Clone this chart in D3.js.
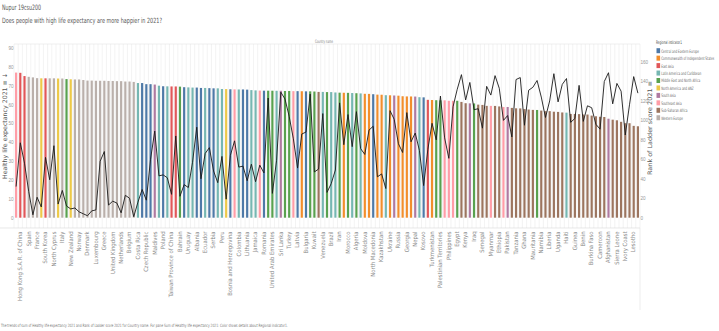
<!DOCTYPE html>
<html>
<head>
<meta charset="utf-8">
<script src="https://cdn.jsdelivr.net/npm/d3@7"></script>
<style>
  html, body { margin: 0; padding: 0; background: #fff; }
  svg { display: block; font-family: "Liberation Sans Narrow", "DejaVu Sans Condensed", "Roboto", sans-serif; }
</style>
</head>
<body>
<svg id="chart" width="719" height="331"></svg>
<script>
// Countries ordered by healthy life expectancy (descending)
const countries = [
  "Singapore","Hong Kong S.A.R. of China","Japan","Spain","Switzerland","France","Australia","South Korea","Cyprus","North Cyprus",
  "Canada","Italy","Israel","New Zealand","Austria","Norway","Iceland","Denmark","Sweden","Luxembourg",
  "Portugal","Greece","Germany","United Kingdom","Ireland","Netherlands","Malta","Belgium","Finland","Costa Rica",
  "Slovenia","Czech Republic","Croatia","Maldives","Chile","Poland","Panama","Taiwan Province of China","China","Bahrain",
  "Slovakia","Uruguay","Argentina","Albania","Estonia","Ecuador","Montenegro","Serbia","Mexico","Peru",
  "United States","Bosnia and Herzegovina","Vietnam","Colombia","Hungary","Lithuania","Nicaragua","Jamaica","Thailand","Romania",
  "Lebanon","United Arab Emirates","Honduras","Sri Lanka","Tunisia","Turkey","Malaysia","Latvia","Armenia","Bulgaria",
  "Jordan","Kuwait","Mauritius","Venezuela","Saudi Arabia","Brazil","El Salvador","Iran","Belarus","Morocco",
  "Dominican Republic","Algeria","Paraguay","Moldova","Azerbaijan","North Macedonia","Uzbekistan","Kazakhstan","Guatemala","Ukraine",
  "Bangladesh","Russia","Kyrgyzstan","Georgia","Tajikistan","Nepal","Bolivia","Kosovo","Mongolia","Turkmenistan",
  "Libya","Palestinian Territories","Indonesia","Philippines","Cambodia","Egypt","Rwanda","Kenya","India","Iraq",
  "Gabon","Senegal","Madagascar","Myanmar","Botswana","Ethiopia","Laos","Pakistan","Congo (Brazzaville)","Tanzania",
  "Malawi","Ghana","Comoros","Mauritania","Yemen","Namibia","South Africa","Liberia","Zimbabwe","Uganda",
  "Zambia","Haiti","Gambia","Guinea","Togo","Benin","Mozambique","Burkina Faso","Niger","Cameroon",
  "Burundi","Afghanistan","Mali","Sierra Leone","Swaziland","Ivory Coast","Nigeria","Lesotho","Chad"
];

const healthyLifeExpectancy = [
  76.953,76.820,75.100,74.700,74.400,74.000,73.900,73.900,73.898,73.898,
  73.800,73.800,73.503,73.400,73.300,73.300,73.000,72.700,72.700,72.600,
  72.600,72.600,72.500,72.500,72.400,72.400,72.200,72.199,72.000,71.400,
  71.400,70.807,70.799,70.600,70.000,69.702,69.652,69.600,69.593,69.495,
  69.201,69.100,69.000,68.999,68.800,68.800,68.699,68.600,68.597,68.250,
  68.200,68.098,68.034,68.001,68.000,67.906,67.657,67.500,67.401,67.355,
  67.355,67.333,67.300,67.299,67.201,67.199,67.102,67.100,67.055,67.000,
  67.000,66.900,66.701,66.700,66.603,66.601,66.402,66.300,66.253,66.208,
  66.102,66.005,65.900,65.699,65.656,65.474,65.255,65.200,64.958,64.902,
  64.800,64.703,64.401,64.300,64.281,64.233,63.901,63.813,62.500,62.409,
  62.300,62.250,62.236,62.000,62.000,61.998,61.400,60.704,60.633,60.583,
  59.962,59.802,59.305,59.302,59.269,59.000,58.709,58.709,58.221,57.999,
  57.948,57.586,57.349,57.161,57.122,56.799,56.506,56.498,56.201,56.101,
  55.809,55.700,55.012,55.008,54.914,54.713,54.706,54.151,53.780,53.515,
  53.400,52.493,51.969,51.651,50.833,50.114,50.102,48.700,48.478
];

const ladderRank = [
  32,77,56,27,3,21,11,62,39,74,
  14,28,12,9,10,6,4,2,7,8,
  58,68,13,17,15,5,23,20,1,16,
  29,18,60,89,43,44,41,24,84,22,
  34,31,57,93,40,66,72,48,36,63,
  19,64,79,52,53,38,55,37,54,46,
  123,25,59,129,122,104,81,51,86,88,
  127,47,50,107,26,35,49,118,75,106,
  73,109,71,65,90,94,42,45,30,110,
  101,76,67,108,78,87,69,33,70,97,
  80,125,82,61,114,132,147,121,139,111,
  112,92,135,126,146,133,100,105,83,142,
  144,95,131,134,141,124,103,120,148,119,
  137,143,98,102,136,99,115,113,96,91,
  140,149,117,138,130,85,116,145,128
];

const regions = [
  "Central and Eastern Europe","Commonwealth of Independent States","East Asia",
  "Latin America and Caribbean","Middle East and North Africa","North America and ANZ",
  "South Asia","Southeast Asia","Sub-Saharan Africa","Western Europe"
];

// Index into `regions` for each country
const countryRegion = [
  7,2,2,9,9,9,5,2,9,9,
  5,9,4,5,9,9,9,9,9,9,
  9,9,9,9,9,9,9,9,9,3,
  0,0,0,6,3,0,3,2,2,4,
  0,3,3,0,0,3,0,0,3,3,
  5,0,7,3,0,0,3,3,7,0,
  4,4,3,6,4,4,7,0,1,0,
  4,4,8,3,4,3,3,4,1,4,
  3,4,3,1,1,0,1,1,3,1,
  6,1,1,1,1,6,3,0,2,1,
  4,4,7,7,7,4,8,8,6,4,
  8,8,8,7,8,8,7,6,8,8,
  8,8,8,8,4,8,8,8,8,8,
  8,3,8,8,8,8,8,8,8,8,
  8,6,8,8,8,8,8,8,8
];

const leftTicks = [0,10,20,30,40,50,60,70,80,90];
const rightTicks = [0,20,40,60,80,100,120,140,160];

const titleLine1 = "Nupur 19csu200";
const titleLine2 = "Does people with high life expectancy are more happier  in 2021?";
const footnote = "The trends of sum of Healthy life expectancy 2021 and Rank of Ladder score 2021 for Country name.  For pane Sum of Healthy life expectancy 2021:  Color shows details about Regional indicator1.";

const svg = d3.select("#chart");

// Squeeze text horizontally (narrow-face look) with a scale transform on its wrapper.
// layout: { width | factor, rotate }, style: SVG text attributes
function squeezedText(parent, px, py, str, layout, style) {
  const g = parent.append("g");
  const t = g.append("text").attr("x", 0).attr("y", 0).text(str);
  Object.entries(style).forEach(([k, v]) => t.attr(k, v));
  const len = t.node().getComputedTextLength();
  const f = layout.width ? layout.width / len : layout.factor;
  const rot = layout.rotate ? ` rotate(${layout.rotate})` : "";
  g.attr("transform", `translate(${px},${py})${rot} scale(${f},1)`);
  return t;
}

const plotLeft = 14, plotRight = 640, plotTop = 44, plotBottom = 217.7;

const x = d3.scaleBand().domain(countries).range([plotLeft, plotRight]).paddingInner(0.48).paddingOuter(0.24);
const yLeft = d3.scaleLinear().domain([0, 92.1]).range([plotBottom, plotTop]);
const yRight = d3.scaleLinear().domain([0, 178.5]).range([plotBottom, plotTop]);
const color = d3.scaleOrdinal().domain(regions).range(d3.schemeTableau10);

// Titles
squeezedText(svg, 2, 10, titleLine1, { width: 39 }, { "font-size": 7.4, fill: "#555" });
squeezedText(svg, 2, 23, titleLine2, { width: 160 }, { "font-size": 7.2, fill: "#555" });

// Column header
squeezedText(svg, 324, 42.5, "Country name", { width: 18 }, { "font-size": 4.6, fill: "#777", "text-anchor": "middle" });

// Column separators
const sepX = d3.range(countries.length + 1).map(i => plotLeft + i * (plotRight - plotLeft) / countries.length);
svg.append("g").selectAll("line").data(sepX).join("line")
  .attr("x1", d => d).attr("x2", d => d)
  .attr("y1", plotTop).attr("y2", 228)
  .attr("stroke", "#ebebeb").attr("stroke-width", 0.6);

svg.append("line").attr("x1", plotLeft).attr("x2", plotRight).attr("y1", plotTop).attr("y2", plotTop)
  .attr("stroke", "#e4e4e4").attr("stroke-width", 0.6);
svg.append("line").attr("x1", 0).attr("x2", plotRight).attr("y1", 228).attr("y2", 228)
  .attr("stroke", "#d8d8d8").attr("stroke-width", 0.6);
svg.append("line").attr("x1", plotRight).attr("x2", plotRight).attr("y1", 228).attr("y2", 310)
  .attr("stroke", "#e0e0e0").attr("stroke-width", 0.6);

// Bars
const rows = countries.map((c, i) => ({
  country: c,
  hle: healthyLifeExpectancy[i],
  rank: ladderRank[i],
  region: regions[countryRegion[i]]
}));

svg.append("g").selectAll("rect").data(rows).join("rect")
  .attr("x", d => x(d.country))
  .attr("width", x.bandwidth())
  .attr("y", d => yLeft(d.hle))
  .attr("height", d => yLeft(0) - yLeft(d.hle))
  .attr("fill", d => color(d.region));

// Rank line
const line = d3.line()
  .x(d => x(d.country) + x.bandwidth() / 2)
  .y(d => yRight(d.rank));
svg.append("path").datum(rows).attr("d", line)
  .attr("fill", "none").attr("stroke", "#1a1a1a").attr("stroke-width", 0.9);

// Left axis
const leftAxis = d3.axisLeft(yLeft).tickValues(leftTicks).tickSize(0).tickPadding(0);
const gl = svg.append("g").attr("transform", "translate(13.5,0)").call(leftAxis);
gl.select(".domain").remove();
gl.selectAll("text").attr("font-size", 4.6).attr("fill", "#999").attr("font-family", null);

// Right axis
const rightAxis = d3.axisRight(yRight).tickValues(rightTicks).tickSize(0).tickPadding(0);
const gr = svg.append("g").attr("transform", "translate(640.5,0)").call(rightAxis);
gr.select(".domain").remove();
gr.selectAll("text").attr("font-size", 4.6).attr("fill", "#999").attr("font-family", null);

// Axis titles
squeezedText(svg, 6.5, 126, "Healthy life expectancy 2021 \u2261 \u2193", { width: 106, rotate: -90 },
  { "font-size": 6.2, fill: "#555", "text-anchor": "middle" });
squeezedText(svg, 652, 128, "Rank of Ladder score 2021 \u2261", { width: 94, rotate: -90 },
  { "font-size": 6.2, fill: "#555", "text-anchor": "middle" });

// Country labels (every other column)
svg.append("g").selectAll("text").data(rows.filter((d, i) => i % 2 === 1)).join("text")
  .attr("transform", d => `translate(${x(d.country) + x.bandwidth() / 2 + 1.8},231.5) rotate(-90)`)
  .attr("text-anchor", "end")
  .attr("font-size", 5.9).attr("fill", "#8a8a8a")
  .text(d => d.country);

// Legend
const lg = svg.append("g").attr("transform", "translate(656,0)");
squeezedText(lg, 0, 43.5, "Regional indicator1", { width: 26 }, { "font-size": 4.8, fill: "#444" });
const items = lg.selectAll("g.item").data(regions).join("g").attr("class", "item")
  .attr("transform", (d, i) => `translate(0,${51 + i * 7.45})`);
items.append("rect").attr("x", 0.5).attr("y", -2.8).attr("width", 3.6).attr("height", 5).attr("fill", d => color(d));
// Common squeeze so the longest entry fits the space to the right edge
const probe = svg.append("text").attr("font-size", 4.6).text(regions[1]);
const longest = probe.node().getComputedTextLength();
probe.remove();
const legendSqueeze = 53 / longest;
items.each(function (d) {
  squeezedText(d3.select(this), 5.2, 1.6, d, { factor: legendSqueeze }, { "font-size": 4.6, fill: "#666" });
});

// Footnote
squeezedText(svg, 1, 327, footnote, { width: 287 }, { "font-size": 4.4, fill: "#777" });
</script>
</body>
</html>
